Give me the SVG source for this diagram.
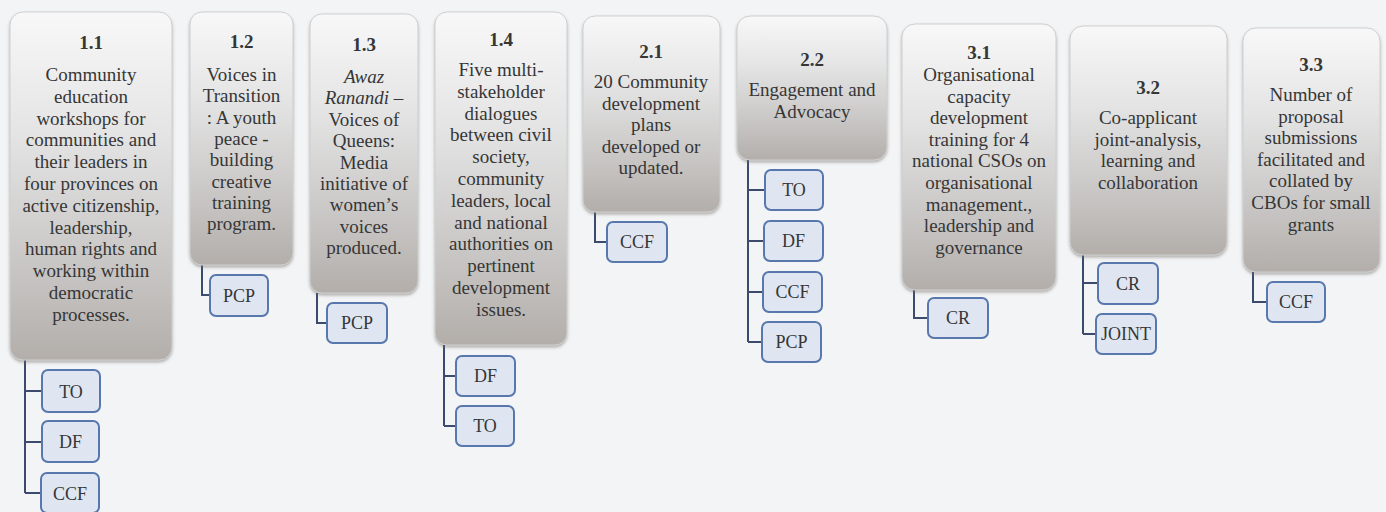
<svg xmlns="http://www.w3.org/2000/svg" width="1386" height="512" viewBox="0 0 1386 512">
<defs>
<linearGradient id="g" x1="0" y1="0" x2="0" y2="1">
<stop offset="0" stop-color="#f8f8f8"/>
<stop offset="0.35" stop-color="#e4e4e4"/>
<stop offset="0.72" stop-color="#c9c7c6"/>
<stop offset="1" stop-color="#b3aeaa"/>
</linearGradient>
<filter id="sh" x="-10%" y="-10%" width="120%" height="120%">
<feDropShadow dx="0" dy="2" stdDeviation="1.5" flood-color="#6e6a68" flood-opacity="0.5"/>
</filter>
<style>
.box{fill:url(#g);stroke:#cfcfcf;stroke-width:1;filter:url(#sh)}
.t{font-family:"Liberation Serif","Times New Roman",serif;font-size:19px;fill:#363636;text-anchor:middle}
.n{font-family:"Liberation Serif","Times New Roman",serif;font-size:19px;font-weight:bold;fill:#363636;text-anchor:middle}
.c{fill:#dfe6f1;stroke:#5877ad;stroke-width:2}
.cl{font-family:"Liberation Serif","Times New Roman",serif;font-size:18px;fill:#363636;text-anchor:middle}
.ln{fill:none;stroke:#3c4a6e;stroke-width:2}
</style>
</defs>
<rect width="1386" height="512" fill="#f3f4f5"/>

<g id="connectors">
<path class="ln" d="M25 360V493M25 391H42M25 442H42M25 493H41"/>
<path class="ln" d="M202 265V295H210"/>
<path class="ln" d="M317 293V323H327"/>
<path class="ln" d="M444 345V426M444 376H456M444 426H456"/>
<path class="ln" d="M595 212V242H607"/>
<path class="ln" d="M748 160V342M748 190H765M748 241H764M748 292H763M748 342H762"/>
<path class="ln" d="M914 290V318H928"/>
<path class="ln" d="M1083 255V334M1083 283H1098M1083 334H1096"/>
<path class="ln" d="M1253 272V302H1267"/>
</g>

<g id="n11">
<rect class="box" x="10" y="12" width="162" height="348" rx="13"/>
<text class="n" x="91" y="49">1.1</text>
<text class="t" x="91" y="81"><tspan x="91">Community</tspan><tspan x="91" dy="21.8">education</tspan><tspan x="91" dy="21.8">workshops for</tspan><tspan x="91" dy="21.8">communities and</tspan><tspan x="91" dy="21.8">their leaders in</tspan><tspan x="91" dy="21.8">four provinces on</tspan><tspan x="91" dy="21.8">active citizenship,</tspan><tspan x="91" dy="21.8">leadership,</tspan><tspan x="91" dy="21.8">human rights and</tspan><tspan x="91" dy="21.8">working within</tspan><tspan x="91" dy="21.8">democratic</tspan><tspan x="91" dy="21.8">processes.</tspan></text>
</g>
<g id="n11a"><rect class="c" x="42" y="370" width="58" height="42" rx="6"/><text class="cl" x="71" y="397.5">TO</text></g>
<g id="n11b"><rect class="c" x="42" y="421" width="57" height="41" rx="6"/><text class="cl" x="70.5" y="448">DF</text></g>
<g id="n11c"><rect class="c" x="41" y="473" width="58" height="40" rx="6"/><text class="cl" x="70" y="499.5">CCF</text></g>

<g id="n12">
<rect class="box" x="190" y="12" width="103" height="253" rx="12"/>
<text class="n" x="241.5" y="48">1.2</text>
<text class="t" x="241.5" y="81"><tspan x="241.5">Voices in</tspan><tspan x="241.5" dy="21.3">Transition</tspan><tspan x="241.5" dy="21.3">: A youth</tspan><tspan x="241.5" dy="21.3">peace -</tspan><tspan x="241.5" dy="21.3">building</tspan><tspan x="241.5" dy="21.3">creative</tspan><tspan x="241.5" dy="21.3">training</tspan><tspan x="241.5" dy="21.3">program.</tspan></text>
</g>
<g id="n12a"><rect class="c" x="210" y="275" width="58" height="41" rx="6"/><text class="cl" x="239" y="301.5">PCP</text></g>

<g id="n13">
<rect class="box" x="310" y="14" width="108" height="279" rx="12"/>
<text class="n" x="364" y="51">1.3</text>
<text class="t" x="364" y="83"><tspan x="364" font-style="italic">Awaz</tspan><tspan x="364" dy="21.4"><tspan font-style="italic">Ranandi</tspan> –</tspan><tspan x="364" dy="21.4">Voices of</tspan><tspan x="364" dy="21.4">Queens:</tspan><tspan x="364" dy="21.4">Media</tspan><tspan x="364" dy="21.4">initiative of</tspan><tspan x="364" dy="21.4">women’s</tspan><tspan x="364" dy="21.4">voices</tspan><tspan x="364" dy="21.4">produced.</tspan></text>
</g>
<g id="n13a"><rect class="c" x="327" y="303" width="60" height="40" rx="6"/><text class="cl" x="357" y="329">PCP</text></g>

<g id="n14">
<rect class="box" x="435" y="12" width="132" height="333" rx="12"/>
<text class="n" x="501" y="46">1.4</text>
<text class="t" x="501" y="76"><tspan x="501">Five multi-</tspan><tspan x="501" dy="21.8">stakeholder</tspan><tspan x="501" dy="21.8">dialogues</tspan><tspan x="501" dy="21.8">between civil</tspan><tspan x="501" dy="21.8">society,</tspan><tspan x="501" dy="21.8">community</tspan><tspan x="501" dy="21.8">leaders, local</tspan><tspan x="501" dy="21.8">and national</tspan><tspan x="501" dy="21.8">authorities on</tspan><tspan x="501" dy="21.8">pertinent</tspan><tspan x="501" dy="21.8">development</tspan><tspan x="501" dy="21.8">issues.</tspan></text>
</g>
<g id="n14a"><rect class="c" x="456" y="356" width="59" height="40" rx="6"/><text class="cl" x="485.5" y="382">DF</text></g>
<g id="n14b"><rect class="c" x="456" y="406" width="58" height="40" rx="6"/><text class="cl" x="485" y="432">TO</text></g>

<g id="n21">
<rect class="box" x="583" y="16" width="137" height="196" rx="12"/>
<text class="n" x="651" y="58">2.1</text>
<text class="t" x="651" y="88"><tspan x="651">20 Community</tspan><tspan x="651" dy="21.5">development</tspan><tspan x="651" dy="21.5">plans</tspan><tspan x="651" dy="21.5">developed or</tspan><tspan x="651" dy="21.5">updated.</tspan></text>
</g>
<g id="n21a"><rect class="c" x="607" y="222" width="60" height="40" rx="6"/><text class="cl" x="637" y="248">CCF</text></g>

<g id="n22">
<rect class="box" x="737" y="16" width="150" height="144" rx="13"/>
<text class="n" x="812" y="66">2.2</text>
<text class="t" x="812" y="96"><tspan x="812">Engagement and</tspan><tspan x="812" dy="22">Advocacy</tspan></text>
</g>
<g id="n22a"><rect class="c" x="765" y="170" width="58" height="40" rx="6"/><text class="cl" x="794" y="196">TO</text></g>
<g id="n22b"><rect class="c" x="764" y="221" width="59" height="40" rx="6"/><text class="cl" x="793.5" y="247">DF</text></g>
<g id="n22c"><rect class="c" x="763" y="272" width="59" height="40" rx="6"/><text class="cl" x="792.5" y="298">CCF</text></g>
<g id="n22d"><rect class="c" x="762" y="322" width="59" height="40" rx="6"/><text class="cl" x="791.5" y="348">PCP</text></g>

<g id="n31">
<rect class="box" x="902" y="24" width="154" height="266" rx="13"/>
<text class="n" x="979" y="59">3.1</text>
<text class="t" x="979" y="81"><tspan x="979">Organisational</tspan><tspan x="979" dy="21.6">capacity</tspan><tspan x="979" dy="21.6">development</tspan><tspan x="979" dy="21.6">training for 4</tspan><tspan x="979" dy="21.6">national CSOs on</tspan><tspan x="979" dy="21.6">organisational</tspan><tspan x="979" dy="21.6">management.,</tspan><tspan x="979" dy="21.6">leadership and</tspan><tspan x="979" dy="21.6">governance</tspan></text>
</g>
<g id="n31a"><rect class="c" x="928" y="298" width="60" height="40" rx="6"/><text class="cl" x="958" y="324">CR</text></g>

<g id="n32">
<rect class="box" x="1070" y="26" width="157" height="229" rx="13"/>
<text class="n" x="1148" y="94">3.2</text>
<text class="t" x="1148" y="124"><tspan x="1148">Co-applicant</tspan><tspan x="1148" dy="21.6">joint-analysis,</tspan><tspan x="1148" dy="21.6">learning and</tspan><tspan x="1148" dy="21.6">collaboration</tspan></text>
</g>
<g id="n32a"><rect class="c" x="1098" y="263" width="60" height="41" rx="6"/><text class="cl" x="1128" y="289.5">CR</text></g>
<g id="n32b"><rect class="c" x="1096" y="314" width="60" height="40" rx="6"/><text class="cl" x="1126" y="340">JOINT</text></g>

<g id="n33">
<rect class="box" x="1243" y="28" width="137" height="244" rx="13"/>
<text class="n" x="1311" y="71">3.3</text>
<text class="t" x="1311" y="101"><tspan x="1311">Number of</tspan><tspan x="1311" dy="21.6">proposal</tspan><tspan x="1311" dy="21.6">submissions</tspan><tspan x="1311" dy="21.6">facilitated and</tspan><tspan x="1311" dy="21.6">collated by</tspan><tspan x="1311" dy="21.6">CBOs for small</tspan><tspan x="1311" dy="21.6">grants</tspan></text>
</g>
<g id="n33a"><rect class="c" x="1267" y="282" width="58" height="40" rx="6"/><text class="cl" x="1296" y="308">CCF</text></g>
</svg>
